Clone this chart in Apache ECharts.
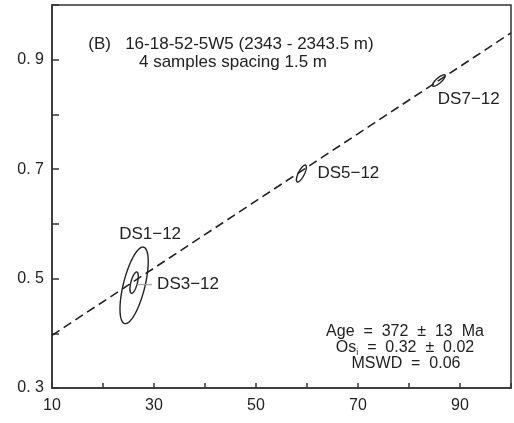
<!DOCTYPE html>
<html>
<head>
<meta charset="utf-8">
<script src="https://cdn.jsdelivr.net/npm/echarts@6/dist/echarts.min.js"></script>
<style>
html,body{margin:0;padding:0;background:#fff;}
#chart{width:514px;height:423px;}
</style>
</head>
<body>
<div id="chart"></div>
<script>
// ---- data ----
var sampleNames = ['DS1\u221212', 'DS3\u221212', 'DS5\u221212', 'DS7\u221212'];
var ellX   = [26.1, 26.1, 58.9, 85.85];      // 187Re/188Os
var ellY   = [0.4876, 0.4925, 0.692, 0.862]; // 187Os/188Os
var ellSx  = [2.77, 0.82, 0.98, 1.25];
var ellSy  = [0.070, 0.0195, 0.0155, 0.0105];
var ellRho = [0.62, 0.6, 0.75, 0.82];
var isoX = [10, 100];
var isoY = [0.3963, 0.949];
var xTickLabels = [10, 30, 50, 70, 90];
var yTickLabels = [0.3, 0.5, 0.7, 0.9];
var titleLines = ['(B)   16-18-52-5W5 (2343 - 2343.5 m)', '4 samples spacing 1.5 m'];
var ageText = 'Age  =  372  \u00b1  13  Ma';
var osiValue = '  =  0.32  \u00b1  0.02';
var mswdText = 'MSWD  =  0.06';

// ---- chart ----
var FONT = '"Liberation Sans", Arial, Helvetica, sans-serif';
var INK = '#222';
var chart = echarts.init(document.getElementById('chart'), null, {renderer: 'canvas'});

var ellData = ellX.map(function (x, i) { return [x, ellY[i], ellSx[i], ellSy[i], ellRho[i]]; });

var labelCfg = [
  {position: [16, -51], align: 'center'},
  {position: [3, 2], align: 'left', rich: true},
  {position: [16, 0], align: 'left'},
  {position: [-1, 19], align: 'left'}
];

var labelData = ellX.map(function (x, i) {
  var c = labelCfg[i];
  var lab = {
    show: true,
    position: c.position,
    align: c.align,
    verticalAlign: 'middle',
    fontFamily: FONT,
    fontSize: 17,
    color: INK,
    opacity: 1
  };
  if (c.rich) {
    lab.formatter = '{l|}{g|}{t|' + sampleNames[i] + '}';
    lab.rich = {
      l: {width: 15, height: 1, backgroundColor: '#999'},
      g: {width: 5},
      t: {fontFamily: FONT, fontSize: 17, color: INK}
    };
  } else {
    lab.formatter = sampleNames[i];
  }
  return {value: [x, ellY[i]], label: lab};
});

function approxIn(v, arr) {
  for (var k = 0; k < arr.length; k++) if (Math.abs(arr[k] - v) < 1e-6) return true;
  return false;
}

var option = {
  animation: false,
  backgroundColor: '#fff',
  grid: {left: 52, right: 2, top: 5, bottom: 35, show: true, borderColor: '#333', borderWidth: 1.5, backgroundColor: 'transparent'},
  xAxis: {
    type: 'value', min: 10, max: 100, interval: 10,
    axisLine: {show: true, lineStyle: {color: '#333', width: 1.5}},
    axisTick: {show: true, inside: true, length: 5, lineStyle: {color: '#333', width: 1.5}},
    axisLabel: {
      color: INK, fontFamily: FONT, fontSize: 16, margin: 10,
      formatter: function (v) { return approxIn(v, xTickLabels) ? String(v) : ''; }
    },
    splitLine: {show: false}
  },
  yAxis: {
    type: 'value', min: 0.3, max: 1.0, interval: 0.1,
    axisLine: {show: true, lineStyle: {color: '#333', width: 1.5}},
    axisTick: {show: true, inside: true, length: 7, lineStyle: {color: '#333', width: 1.5}},
    axisLabel: {
      color: INK, fontFamily: FONT, fontSize: 16, margin: 8,
      formatter: function (v) { return approxIn(v, yTickLabels) ? v.toFixed(1).replace('.', '. ') : ''; }
    },
    splitLine: {show: false}
  },
  series: [
    {
      type: 'line', data: isoX.map(function (x, i) { return [x, isoY[i]]; }),
      symbol: 'none', silent: true,
      lineStyle: {color: '#222', width: 1.6, type: [9, 5]}
    },
    {
      type: 'custom', data: ellData, silent: true,
      renderItem: function (params, api) {
        var cx = api.value(0), cy = api.value(1), sx = api.value(2), sy = api.value(3), r = api.value(4);
        var q = Math.sqrt(1 - r * r);
        var pts = [];
        for (var k = 0; k < 72; k++) {
          var t = k / 72 * Math.PI * 2;
          var dx = sx * Math.cos(t);
          var dy = sy * (r * Math.cos(t) + q * Math.sin(t));
          pts.push(api.coord([cx + dx, cy + dy]));
        }
        return {type: 'polygon', shape: {points: pts}, style: {fill: null, stroke: '#222', lineWidth: 1.4}};
      }
    },
    {
      type: 'scatter', data: labelData, symbolSize: 0, silent: true,
      itemStyle: {color: '#222', opacity: 1}
    }
  ],
  graphic: [
    {type: 'text', style: {text: titleLines[0], x: 231, y: 44, textAlign: 'center', textVerticalAlign: 'middle', font: '17px ' + FONT, fill: INK}},
    {type: 'text', style: {text: titleLines[1], x: 233, y: 62, textAlign: 'center', textVerticalAlign: 'middle', font: '17px ' + FONT, fill: INK}},
    {type: 'text', style: {text: ageText, x: 405, y: 332, textAlign: 'center', textVerticalAlign: 'middle', font: '16px ' + FONT, fill: INK}},
    {type: 'text', style: {
      text: '{a|Os}{s|i}{a|' + osiValue + '}', x: 405, y: 348, textAlign: 'center', textVerticalAlign: 'middle',
      rich: {a: {fontFamily: FONT, fontSize: 16, fill: INK, color: INK}, s: {fontFamily: FONT, fontSize: 9, color: INK, fill: INK, padding: [9, 0, 0, 0]}}
    }},
    {type: 'text', style: {text: mswdText, x: 406, y: 364, textAlign: 'center', textVerticalAlign: 'middle', font: '16px ' + FONT, fill: INK}}
  ]
};
chart.setOption(option);
</script>
</body>
</html>
